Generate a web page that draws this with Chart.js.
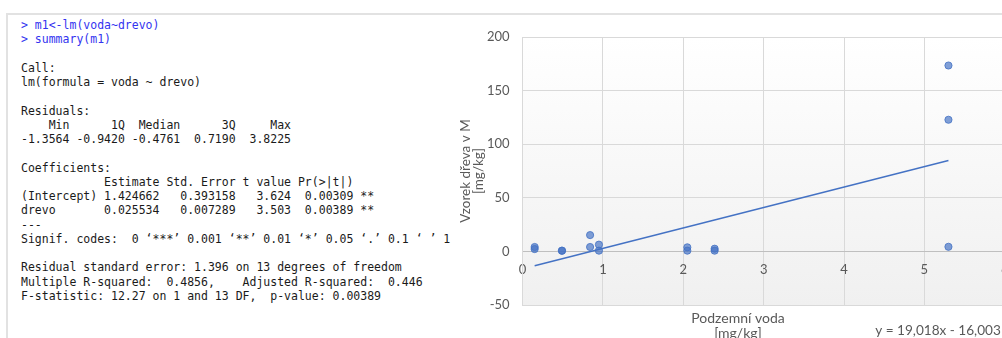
<!DOCTYPE html>
<html>
<head>
<meta charset="utf-8">
<script src="https://cdn.jsdelivr.net/npm/chart.js@4.4.1/dist/chart.umd.min.js"></script>
<style>
  html, body { margin: 0; padding: 0; background: #fff; width: 1002px; height: 338px; overflow: hidden; }
  #frameTop { position: absolute; left: 6px; top: 13px; width: 1000px; height: 2px; background: #e2e2e2; }
  #frameLeft { position: absolute; left: 6px; top: 13px; width: 2px; height: 330px; background: #e2e2e2; }
  #console {
    position: absolute; left: 21px; top: 18px; margin: 0;
    font-family: "DejaVu Sans Mono", "Liberation Mono", monospace;
    font-size: 11.5px; line-height: 14.25px; color: #1a1a1a;
    white-space: pre;
  }
  #console .cmd { color: #3434f0; }
  #chartBox { position: absolute; left: 440px; top: 0; width: 580px; height: 338px; }
</style>
</head>
<body>
<div id="frameTop"></div>
<div id="frameLeft"></div>
<pre id="console"></pre>
<div id="chartBox"><canvas id="scatter" width="580" height="338"></canvas></div>
<script>
// R console output shown next to the chart
const commandLines = ['> m1<-lm(voda~drevo)', '> summary(m1)'];
const outputLines = [
    '',
    'Call:',
    'lm(formula = voda ~ drevo)',
    '',
    'Residuals:',
    '    Min      1Q  Median      3Q     Max ',
    '-1.3564 -0.9420 -0.4761  0.7190  3.8225 ',
    '',
    'Coefficients:',
    '            Estimate Std. Error t value Pr(>|t|)   ',
    '(Intercept) 1.424662   0.393158   3.624  0.00309 **',
    'drevo       0.025534   0.007289   3.503  0.00389 **',
    '---',
    'Signif. codes:  0 \u2018***\u2019 0.001 \u2018**\u2019 0.01 \u2018*\u2019 0.05 \u2018.\u2019 0.1 \u2018 \u2019 1',
    '',
    'Residual standard error: 1.396 on 13 degrees of freedom',
    'Multiple R-squared:  0.4856,    Adjusted R-squared:  0.446 ',
    'F-statistic: 12.27 on 1 and 13 DF,  p-value: 0.00389'
];

// measured points (Podzemní voda vs. Vzorek dřeva)
const xVals = [0.15, 0.15, 0.49, 0.49, 0.84, 0.84, 0.95, 0.95, 2.05, 2.05, 2.39, 2.39, 5.3, 5.3, 5.3];
const yVals = [4.1, 2.2, 0.7, 0.6, 15.2, 4.1, 6.3, 0.7, 3.8, 0.7, 2.5, 0.7, 173.4, 122.8, 4.3];

// linear trendline end points as drawn in the picture
const trendX = [0.15, 5.3];
const trendY = [-13.4, 84.8];

const xTicks = [0, 1, 2, 3, 4, 5, 6];
const yTicks = [-50, 0, 50, 100, 150, 200];

const yTitle = ['Vzorek d\u0159eva v M', '[mg/kg]'];
const xTitle = ['Podzemn\u00ed voda', '[mg/kg]'];
const equation = 'y = 19,018x - 16,003';

document.addEventListener('DOMContentLoaded', () => {
    renderConsole();
    renderChart();
});

function renderConsole() {
    const pre = document.getElementById('console');
    commandLines.forEach(line => {
        const span = document.createElement('span');
        span.className = 'cmd';
        span.textContent = line + '\n';
        pre.appendChild(span);
    });
    pre.appendChild(document.createTextNode(outputLines.join('\n')));
}

const plotBackground = {
    id: 'plotBackground',
    beforeDraw(chart) {
        const { ctx, chartArea } = chart;
        const grad = ctx.createLinearGradient(0, chartArea.top, 0, chartArea.bottom);
        grad.addColorStop(0, '#ffffff');
        grad.addColorStop(1, '#f0f0f0');
        ctx.save();
        ctx.fillStyle = grad;
        ctx.fillRect(chartArea.left, chartArea.top, chartArea.right - chartArea.left, chartArea.bottom - chartArea.top);
        ctx.restore();
    }
};

const bottomTexts = {
    id: 'bottomTexts',
    afterDraw(chart) {
        const ctx = chart.ctx;
        ctx.save();
        ctx.fillStyle = '#595959';
        ctx.font = '14px Lato';
        ctx.textAlign = 'center';
        ctx.textBaseline = 'middle';
        xTitle.forEach((line, i) => ctx.fillText(line, 298, 318 + i * 15));
        ctx.font = '13.6px Lato';
        ctx.fillText(equation, 498, 331);
        ctx.restore();
    }
};

function renderChart() {
    const ctx = document.getElementById('scatter').getContext('2d');
    const tickFont = { family: 'Lato', size: 13 };

    new Chart(ctx, {
        type: 'scatter',
        data: {
            datasets: [{
                label: 'body',
                data: xVals.map((x, i) => ({ x: x, y: yVals[i] })),
                backgroundColor: 'rgba(68, 114, 196, 0.68)',
                borderColor: 'rgba(68, 114, 196, 0.8)',
                borderWidth: 1,
                pointRadius: 3.6,
                order: 1
            }, {
                type: 'line',
                label: 'trend',
                data: trendX.map((x, i) => ({ x: x, y: trendY[i] })),
                borderColor: '#4472c4',
                borderWidth: 1.4,
                pointRadius: 0,
                fill: false,
                order: 2
            }]
        },
        options: {
            responsive: false,
            animation: false,
            layout: {
                padding: { left: 0, top: 37, right: 15.3, bottom: 33 }
            },
            plugins: {
                legend: { display: false },
                tooltip: { enabled: false }
            },
            scales: {
                x: {
                    type: 'linear',
                    position: { y: 0 },
                    min: xTicks[0],
                    max: xTicks[xTicks.length - 1],
                    afterBuildTicks: scale => { scale.ticks = xTicks.map(v => ({ value: v })); },
                    ticks: { color: '#595959', font: tickFont, padding: 11, maxRotation: 0 },
                    grid: { color: '#d9d9d9', drawTicks: false },
                    border: { color: '#bfbfbf' }
                },
                y: {
                    type: 'linear',
                    position: 'left',
                    min: yTicks[0],
                    max: yTicks[yTicks.length - 1],
                    afterBuildTicks: scale => { scale.ticks = yTicks.map(v => ({ value: v })); },
                    afterFit: scale => { scale.width = 82.6; },
                    ticks: { color: '#595959', font: tickFont, padding: 13 },
                    grid: { color: '#d9d9d9', drawTicks: false },
                    border: { color: '#d9d9d9' },
                    title: {
                        display: true,
                        text: yTitle,
                        color: '#595959',
                        font: { family: 'Lato', size: 13.5, lineHeight: '13px' },
                        padding: { top: 19.5, bottom: 0 }
                    }
                }
            }
        },
        plugins: [plotBackground, bottomTexts]
    });
}
</script>
</body>
</html>
